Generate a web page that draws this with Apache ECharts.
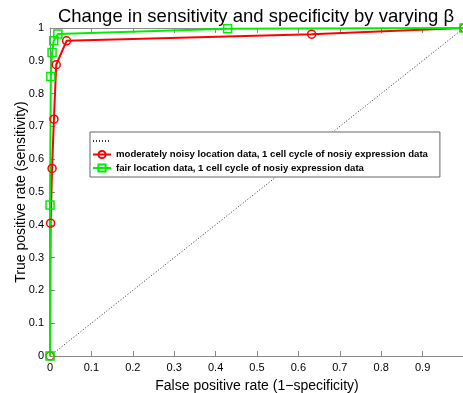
<!DOCTYPE html>
<html>
<head>
<meta charset="utf-8">
<script src="https://cdn.jsdelivr.net/npm/echarts@6/dist/echarts.min.js"></script>
<style>
  html, body { margin: 0; padding: 0; background: #fff; }
  #chart { width: 463px; height: 393px; }
</style>
</head>
<body>
<div id="chart"></div>
<script>
// values
const diagonal = [[0, 0], [1, 1]];
const moderateFpr = [0, 0.0015, 0.005, 0.0095, 0.015, 0.04, 0.632, 1];
const moderateTpr = [0, 0.405, 0.572, 0.722, 0.888, 0.961, 0.981, 1];
const fairFpr = [0, 0, 0.002, 0.005, 0.009, 0.019, 0.429, 1];
const fairTpr = [0, 0.46, 0.852, 0.925, 0.961, 0.982, 0.998, 1];
const xTicks = [0, 0.1, 0.2, 0.3, 0.4, 0.5, 0.6, 0.7, 0.8, 0.9];

const font = 'Liberation Sans, Arial, Helvetica, sans-serif';
const zip = (xs, ys) => xs.map((x, i) => [x, ys[i]]);
const moderateName = 'moderately noisy location data, 1 cell cycle of nosiy expression data';
const fairName = 'fair location data, 1 cell cycle of nosiy expression data';

const chart = echarts.init(document.getElementById('chart'));
chart.setOption({
    backgroundColor: '#fff',
    animation: false,
    title: {
        text: 'Change in sensitivity and specificity by varying \u03b2',
        left: 251,
        textAlign: 'center',
        top: 2,
        textStyle: { fontFamily: font, fontSize: 18.5, fontWeight: 'normal', color: '#000' }
    },
    legend: {
        orient: 'vertical',
        left: 90,
        top: 132,
        padding: [4, 12, 4, 2],
        itemGap: 3.5,
        itemWidth: 18,
        itemHeight: 9,
        borderColor: '#666',
        borderWidth: 1,
        backgroundColor: '#fff',
        data: [
            { name: '\u00a0', itemStyle: { opacity: 0 } },
            moderateName,
            fairName
        ],
        textStyle: { fontFamily: font, fontSize: 9.6, fontWeight: 'bold', color: '#000' }
    },
    grid: { left: 50, right: -1, top: 28, bottom: 37, outerBoundsMode: 'none' },
    xAxis: [{
        type: 'value', min: 0, max: 1, interval: 0.1,
        name: 'False positive rate (1\u2212specificity)',
        nameLocation: 'middle', nameGap: 23,
        nameTextStyle: { fontFamily: font, fontSize: 14, color: '#000' },
        axisLine: { lineStyle: { color: '#888' } },
        axisTick: { inside: true, length: 5, lineStyle: { color: '#888' } },
        axisLabel: {
            fontFamily: font, fontSize: 11, color: '#000', margin: 6,
            formatter: v => xTicks.some(t => Math.abs(t - v) < 1e-9) ? String(+v.toFixed(1)) : ''
        },
        splitLine: { show: false }
    }, {
        type: 'value', min: 0, max: 1, interval: 0.1, position: 'top',
        axisLine: { lineStyle: { color: '#888' } },
        axisTick: { inside: true, length: 5, lineStyle: { color: '#888' } },
        axisLabel: { show: false },
        splitLine: { show: false }
    }],
    yAxis: {
        type: 'value', min: 0, max: 1, interval: 0.1,
        name: 'True positive rate (sensitivity)',
        nameLocation: 'middle', nameGap: 22, nameMoveOverlap: false,
        nameTextStyle: { fontFamily: font, fontSize: 14, color: '#000' },
        axisLine: { show: true, lineStyle: { color: '#888' } },
        axisTick: { show: true, inside: true, length: 5, lineStyle: { color: '#888' } },
        axisLabel: {
            fontFamily: font, fontSize: 11, color: '#000', margin: 6,
            formatter: v => String(+v.toFixed(1))
        },
        splitLine: { show: false }
    },
    series: [
        {
            name: '\u00a0',
            type: 'line',
            data: diagonal,
            symbol: 'none',
            lineStyle: { color: '#333', width: 1, type: [1, 2] },
            itemStyle: { color: '#333' }
        },
        {
            name: moderateName,
            type: 'line',
            data: zip(moderateFpr, moderateTpr),
            symbol: 'circle',
            symbolSize: 8,
            lineStyle: { color: '#ff0000', width: 2 },
            itemStyle: { color: 'rgba(0,0,0,0)', borderColor: '#ff0000', borderWidth: 1.5 }
        },
        {
            name: fairName,
            type: 'line',
            data: zip(fairFpr, fairTpr),
            symbol: 'rect',
            symbolSize: 8,
            lineStyle: { color: '#00ee00', width: 2 },
            itemStyle: { color: 'rgba(0,0,0,0)', borderColor: '#00ee00', borderWidth: 1.5 }
        }
    ]
});
</script>
</body>
</html>
